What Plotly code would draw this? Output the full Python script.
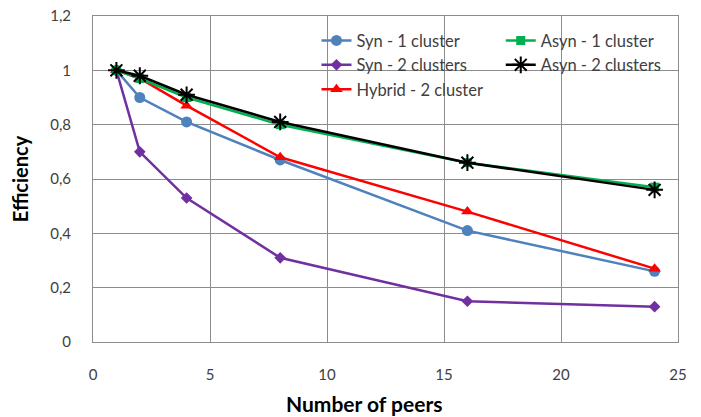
import plotly.graph_objects as go

peers = [1, 2, 4, 8, 16, 24]
syn_1 = [1.0, 0.90, 0.81, 0.67, 0.41, 0.26]
syn_2 = [1.0, 0.70, 0.53, 0.31, 0.15, 0.13]
hybrid_2 = [1.0, 0.97, 0.87, 0.68, 0.48, 0.27]
asyn_1 = [1.0, 0.97, 0.90, 0.80, 0.66, 0.57]
asyn_2 = [1.0, 0.98, 0.91, 0.81, 0.66, 0.56]

y_tickvals = [0, 0.2, 0.4, 0.6, 0.8, 1.0, 1.2]
y_ticktext = ["0", "0,2", "0,4", "0,6", "0,8", "1", "1,2"]
x_tickvals = [0, 5, 10, 15, 20, 25]
x_ticktext = ["0", "5", "10", "15", "20", "25"]

series = [
    # name, values, color, symbol, size, legend, rank
    ("Syn - 2 clusters", syn_2, "#7030A0", "diamond", 9, "legend", 2),
    ("Syn - 1 cluster", syn_1, "#4F81BD", "circle", 11, "legend", 1),
    ("Hybrid - 2 cluster", hybrid_2, "#FF0000", "triangle-up", 11, "legend", 3),
    ("Asyn - 1 cluster", asyn_1, "#00B050", "square", 9, "legend2", 1),
    ("Asyn - 2 clusters", asyn_2, "#000000", "asterisk", 14, "legend2", 2),
]

fig = go.Figure()
for name, vals, color, symbol, size, leg, rank in series:
    marker = dict(symbol=symbol, size=size, color=color)
    if symbol == "asterisk":
        marker["line"] = dict(color=color, width=2)
    fig.add_trace(go.Scatter(
        x=peers, y=vals, name=name, mode="lines+markers",
        line=dict(color=color, width=2.5),
        marker=marker, legend=leg, legendrank=rank,
    ))

font_family = "Lato, 'Open Sans', sans-serif"
legend_common = dict(
    orientation="v", yanchor="top", xanchor="left",
    bgcolor="rgba(255,255,255,0)", tracegroupgap=0,
    font=dict(family=font_family, size=16.5, color="#404040"),
)
fig.update_layout(
    width=701, height=417,
    margin=dict(l=93, r=23, t=16, b=75),
    paper_bgcolor="white", plot_bgcolor="white",
    font=dict(family=font_family, size=15, color="#404040"),
    showlegend=True,
    legend=dict(x=0.382, y=0.978, **legend_common),
    legend2=dict(x=0.697, y=0.978, **legend_common),
    xaxis=dict(
        range=[0, 25], tickvals=x_tickvals, ticktext=x_ticktext,
        showgrid=True, gridcolor="#8C8C8C", gridwidth=1,
        showline=True, linecolor="#8C8C8C", linewidth=1, mirror=True,
        ticks="outside", ticklen=19, tickcolor="rgba(0,0,0,0)",
        zeroline=False, automargin=False,
    ),
    yaxis=dict(
        range=[0, 1.2], tickvals=y_tickvals, ticktext=y_ticktext,
        showgrid=True, gridcolor="#8C8C8C", gridwidth=1,
        showline=True, linecolor="#8C8C8C", linewidth=1, mirror=True,
        ticks="outside", ticklen=18, tickcolor="rgba(0,0,0,0)",
        zeroline=False, automargin=False,
        title=dict(text="<b>Efficiency</b>", font=dict(size=20, color="#000000"), standoff=16),
    ),
    annotations=[dict(
        text="<b>Number of peers</b>", xref="paper", yref="paper",
        x=0.463, y=-0.19, xanchor="center", yanchor="middle", showarrow=False,
        font=dict(family=font_family, size=21, color="#000000"),
    )],
)

fig.write_html(
    "out.html",
    config={"displayModeBar": False},
    post_script="document.body.style.margin='0px';",
)
